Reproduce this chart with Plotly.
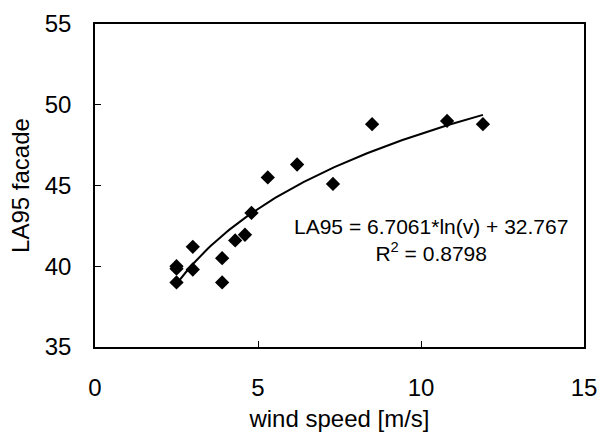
import numpy as np
import plotly.graph_objects as go

wind_speed = [2.5, 2.5, 2.5, 3.0, 3.0, 3.9, 3.9, 4.3, 4.6, 4.8, 5.3, 6.2, 7.3, 8.5, 10.8, 11.9]
la95 = [40.0, 39.85, 39.0, 41.2, 39.8, 40.5, 39.0, 41.6, 41.95, 43.3, 45.5, 46.3, 45.1, 48.8, 49.0, 48.8]

fit_a = 6.7061
fit_b = 32.767
fit_r2 = 0.8798

x_ticks = [0, 5, 10, 15]
y_ticks = [35, 40, 45, 50, 55]

FONT = "Liberation Sans, Arial, sans-serif"

xs = np.linspace(min(wind_speed), max(wind_speed), 100)
ys = fit_a * np.log(xs) + fit_b

fig = go.Figure()
fig.add_trace(go.Scatter(x=xs, y=ys, mode="lines",
                         line=dict(color="black", width=2), showlegend=False))
fig.add_trace(go.Scatter(x=wind_speed, y=la95, mode="markers",
                         marker=dict(symbol="diamond", size=11, color="black"),
                         showlegend=False))

fig.add_annotation(
    x=(431 - 95) / (584 - 95), y=1 - (240 - 24) / (347 - 24),
    xref="paper", yref="paper", xanchor="center", yanchor="middle",
    text=f"LA95 = {fit_a}*ln(v) + {fit_b}<br>R<sup>2</sup> = {fit_r2}",
    showarrow=False, align="center",
    font=dict(family=FONT, size=21, color="black"))

fig.update_layout(
    width=602, height=434,
    margin=dict(l=95, r=18, t=24, b=87),
    paper_bgcolor="white", plot_bgcolor="white",
    font=dict(family=FONT, size=24, color="black"),
)
fig.update_xaxes(range=[0, 15], tickvals=x_ticks, ticks="inside", ticklen=6,
                 tickcolor="black", showline=True, linecolor="black", linewidth=1.5,
                 mirror=True, showgrid=False, zeroline=False, automargin=False,
                 ticklabelstandoff=18, tickfont=dict(family=FONT, size=24),
                 title=dict(text="wind speed [m/s]", standoff=11,
                            font=dict(family=FONT, size=24)))
fig.update_yaxes(range=[35, 55], tickvals=y_ticks, ticks="inside", ticklen=6,
                 tickcolor="black", showline=True, linecolor="black", linewidth=1.5,
                 mirror=True, showgrid=False, zeroline=False, automargin=False,
                 ticklabelstandoff=17, tickfont=dict(family=FONT, size=24),
                 title=dict(text="LA95 facade", standoff=8,
                            font=dict(family=FONT, size=24)))

fig.write_html("out.html")
